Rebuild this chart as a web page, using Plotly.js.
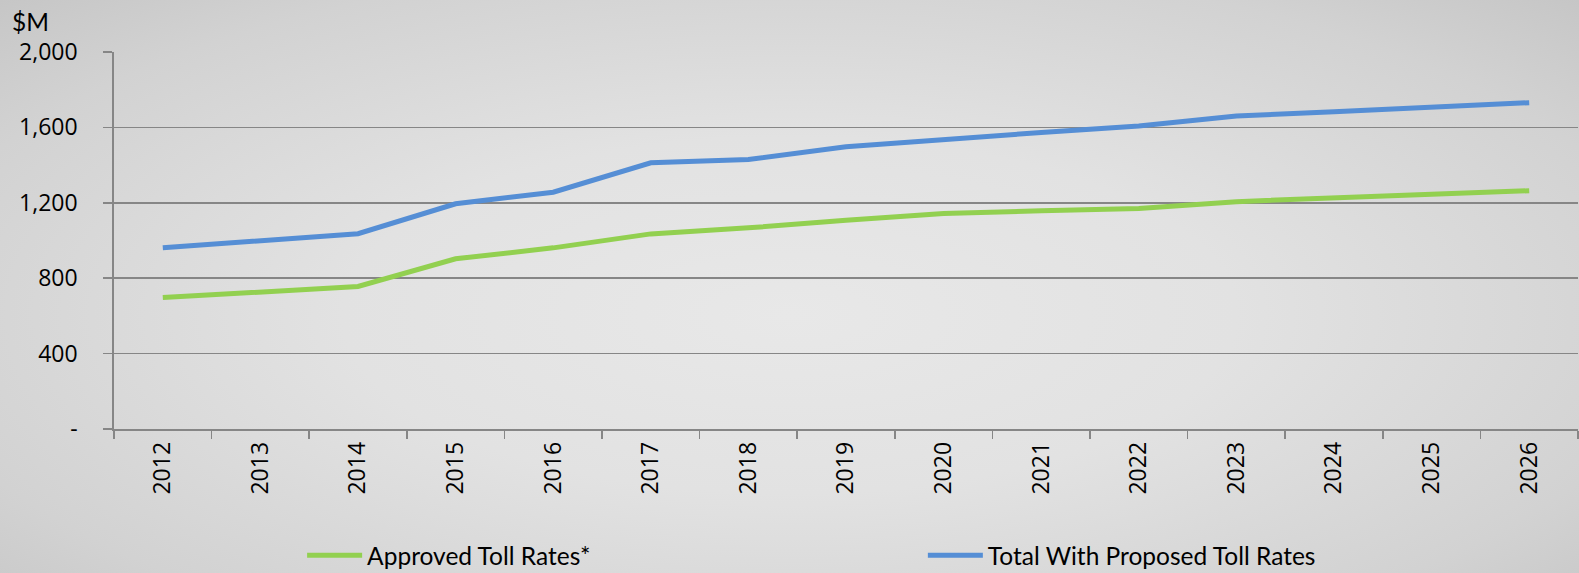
<!DOCTYPE html>
<html>
<head>
<meta charset="utf-8">
<script src="https://cdn.plot.ly/plotly-3.0.1.min.js"></script>
<style>
  html, body { margin: 0; padding: 0; }
  body {
    width: 1579px; height: 573px; overflow: hidden;
    background: radial-gradient(ellipse at 50% 55%, #e8e8e8 0%, #e2e2e2 40%, #d2d2d2 80%, #c6c6c6 100%);
  }
  #chart { width: 1579px; height: 573px; }
</style>
</head>
<body>
<div id="chart"></div>
<script>
const years = ["2012","2013","2014","2015","2016","2017","2018","2019","2020","2021","2022","2023","2024","2025","2026"];
const approved = [697, 726, 756, 903, 961, 1035, 1067, 1108, 1143, 1158, 1170, 1206, 1228, 1246, 1264];
const totalProposed = [961, 998, 1036, 1195, 1256, 1412, 1430, 1497, 1536, 1573, 1607, 1660, 1683, 1706, 1731];
const yTickVals = [0, 400, 800, 1200, 1600, 2000];
const yTickText = ["-", "400", "800", "1,200", "1,600", "2,000"];
const seriesNames = ["Approved Toll Rates*", "Total With Proposed Toll Rates"];

const TICKFONT = { family: "'Open Sans', sans-serif", size: 23, color: "#000000" };
const LEGFONT = { family: "Lato, 'Open Sans', sans-serif", size: 24.5, color: "#000000" };

const traces = [
  {
    x: years, y: approved, name: seriesNames[0], type: "scatter", mode: "lines",
    line: { color: "#92d050", width: 5 }, legend: "legend"
  },
  {
    x: years, y: totalProposed, name: seriesNames[1], type: "scatter", mode: "lines",
    line: { color: "#558ed5", width: 5 }, legend: "legend2"
  }
];

const legendBase = {
  orientation: "h",
  yanchor: "middle", y: -0.335,
  xanchor: "left",
  bgcolor: "rgba(0,0,0,0)",
  font: LEGFONT,
  itemwidth: 55
};

const layout = {
  width: 1579, height: 573,
  margin: { l: 114, r: 1, t: 52, b: 144, pad: 0, autoexpand: false },
  paper_bgcolor: "rgba(0,0,0,0)",
  plot_bgcolor: "rgba(0,0,0,0)",
  font: TICKFONT,
  showlegend: true,
  legend: Object.assign({}, legendBase, { x: 0.1285 }),
  legend2: Object.assign({}, legendBase, { x: 0.5525 }),
  xaxis: {
    type: "category",
    categoryorder: "array", categoryarray: years,
    showline: true, linecolor: "#868686", linewidth: 1.75,
    ticks: "outside", tickson: "boundaries", ticklen: 8, tickcolor: "#868686", tickwidth: 1.75,
    tickangle: -90,
    ticklabelstandoff: 2,
    showgrid: false, zeroline: false,
    tickfont: TICKFONT,
    range: [-0.5, 14.5],
    fixedrange: true
  },
  yaxis: {
    range: [0, 2000],
    tickvals: yTickVals, ticktext: yTickText,
    showline: true, linecolor: "#868686", linewidth: 1.75,
    ticks: "outside", ticklen: 9, tickcolor: "#868686", tickwidth: 1.75,
    ticklabelstandoff: 21,
    showgrid: true, gridcolor: "#868686", gridwidth: 1.75,
    zeroline: false,
    tickfont: TICKFONT,
    fixedrange: true
  },
  annotations: [
    {
      text: "$M", xref: "paper", yref: "paper",
      x: -0.071, y: 1.0, xanchor: "left", yanchor: "bottom", yshift: 14,
      showarrow: false,
      font: LEGFONT
    }
  ]
};

Plotly.newPlot("chart", traces, layout, { displayModeBar: false, staticPlot: true });
</script>
</body>
</html>
